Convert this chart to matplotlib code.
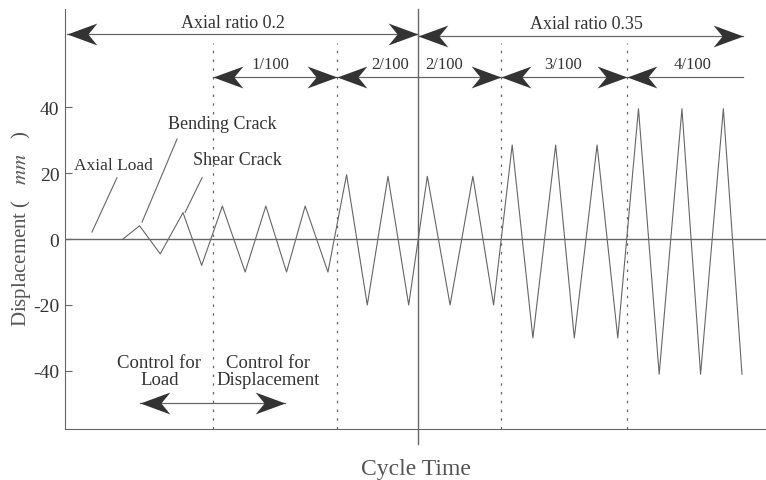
import numpy as np
import matplotlib.pyplot as plt
from matplotlib.path import Path

plt.rcParams['font.family'] = ['Liberation Serif', 'DejaVu Serif']
plt.rcParams['mathtext.fontset'] = 'stix'
plt.rcParams['axes.unicode_minus'] = False

# loading history (cycle time, displacement in mm)
cycle_time = [2.8, 3.6, 4.6, 5.7, 6.6, 7.6, 8.7, 9.7, 10.7, 11.6, 12.7,
              13.6, 14.6, 15.6, 16.6, 17.5, 18.6, 19.7, 20.7,
              21.6, 22.6, 23.7, 24.6, 25.7, 26.7,
              27.7, 28.7, 29.8, 30.7, 31.8, 32.7]
displacement = [0, 4, -4.5, 8, -8, 10, -10, 10, -10, 10, -10,
                19.5, -20, 19, -20, 19, -20, 19, -20,
                28.5, -30, 28.5, -30, 28.5, -30,
                39.5, -41, 39.5, -41, 39.5, -41]

y_ticks = [40, 20, 0, -20, -40]
stage_bounds = [7.15, 13.14, 21.06, 27.15]   # dashed lines
ratio_change = 17.05                          # solid line
drift_labels = ['1/100', '2/100', '2/100', '3/100', '4/100']
drift_label_x = [9.9, 15.7, 18.3, 24.05, 30.3]

ink = '#333333'
grey = '#666666'

# barbed arrow heads (tip at origin)
head_r = Path([(0, 0), (-30, 11), (-21, 0), (-30, -11), (0, 0)],
              [Path.MOVETO, Path.LINETO, Path.LINETO, Path.LINETO, Path.CLOSEPOLY])
head_l = Path([(0, 0), (30, 11), (21, 0), (30, -11), (0, 0)],
              [Path.MOVETO, Path.LINETO, Path.LINETO, Path.LINETO, Path.CLOSEPOLY])


def arrow(ax, x0, x1, y, left=True, right=True):
    ax.plot([x0, x1], [y, y], color=grey, lw=0.9, clip_on=False)
    if left:
        ax.plot(x0, y, marker=head_l, ms=43, color=ink, mew=0, clip_on=False)
    if right:
        ax.plot(x1, y, marker=head_r, ms=43, color=ink, mew=0, clip_on=False)


fig = plt.figure(figsize=(7.66, 4.81), dpi=100)
ax = fig.add_axes([0.0849, 0.106, 0.9151, 0.873])
ax.set_xlim(0, 33.86)
ax.set_ylim(-57.6, 69.7)

ax.axhline(0, color=grey, lw=1.0)
ax.plot(cycle_time, displacement, color=grey, lw=0.8)

for xb in stage_bounds:
    ax.plot([xb, xb], [-57.6, 59.5], color=grey, lw=0.9, ls=(0, (2, 5)))
ax.plot([ratio_change, ratio_change], [-62, 69.7], color=grey, lw=1.0, clip_on=False)

# axial ratio arrows
arrow(ax, 0.1, ratio_change, 62.2)
arrow(ax, ratio_change, 32.75, 61.5)
ax.text(8.12, 65.5, 'Axial ratio 0.2', ha='center', va='center', fontsize=13, color=ink)
ax.text(25.2, 65.2, 'Axial ratio 0.35', ha='center', va='center', fontsize=13, color=ink)

# drift ratio arrows
arrow(ax, stage_bounds[0], stage_bounds[1], 49)
arrow(ax, stage_bounds[1], stage_bounds[2], 49)
arrow(ax, stage_bounds[2], stage_bounds[3], 49)
arrow(ax, stage_bounds[3], 32.75, 49, right=False)
for lab, xl in zip(drift_labels, drift_label_x):
    ax.text(xl, 53.2, lab, ha='center', va='center', fontsize=12, color=ink)

# annotations
ax.text(2.35, 22.5, 'Axial Load', ha='center', va='center', fontsize=12.5, color=ink)
ax.plot([2.51, 1.30], [18.6, 2.1], color=grey, lw=0.8)
ax.text(7.6, 35, 'Bending Crack', ha='center', va='center', fontsize=13, color=ink)
ax.plot([5.41, 3.72], [30.3, 5.1], color=grey, lw=0.8)
ax.text(8.35, 24, 'Shear Crack', ha='center', va='center', fontsize=13, color=ink)
ax.plot([6.62, 5.80], [18.6, 8.1], color=grey, lw=0.8)

ax.text(4.55, -40, 'Control for\nLoad', ha='center', va='center', fontsize=13.5,
        color=ink, linespacing=1.05)
ax.text(9.8, -40, 'Control for\nDisplacement', ha='center', va='center', fontsize=13.5,
        color=ink, linespacing=1.05)
arrow(ax, 3.62, 10.63, -49.8)

ax.spines['top'].set_visible(False)
ax.spines['right'].set_visible(False)
ax.spines['left'].set_color(grey)
ax.spines['bottom'].set_color(grey)
ax.set_xticks([])
ax.set_yticks(y_ticks)
ax.tick_params(axis='y', direction='in', length=5, pad=4, labelsize=14,
               colors=grey, labelcolor=ink)

ax.set_ylabel('Displacement (   $mm$   )', fontsize=15, color='#555555')
ax.yaxis.set_label_coords(-0.046, 0.48)
ax.set_xlabel('Cycle Time', fontsize=17, color='#555555', labelpad=21)

fig.savefig('out.png', dpi=100)
